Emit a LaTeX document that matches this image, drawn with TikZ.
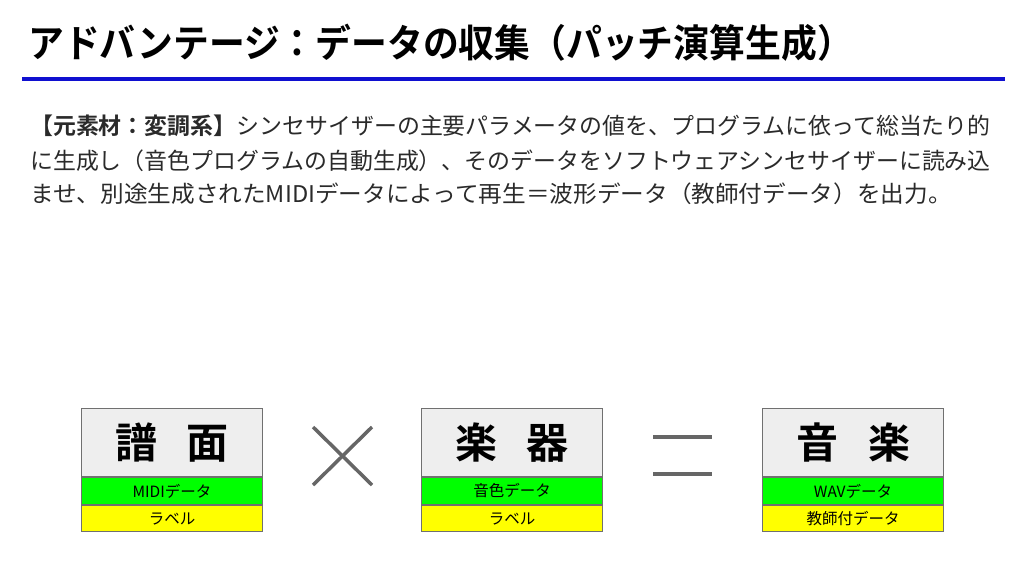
\documentclass[tikz,border=0pt]{standalone}
\usepackage{fontspec}
\newfontfamily\jp[BoldFont={Noto Sans CJK JP Bold}]{Noto Sans CJK JP}
\definecolor{bodytxt}{HTML}{2A2A2A}
\definecolor{rule}{HTML}{1010D0}
\definecolor{boxgray}{HTML}{EEEEEE}
\definecolor{boxedge}{HTML}{707070}
\definecolor{green1}{HTML}{00FF00}
\definecolor{yellow1}{HTML}{FFFF00}
\definecolor{opgray}{HTML}{666666}
\begin{document}
\begin{tikzpicture}[x=1pt,y=-1pt,
  bodyline/.style={anchor=base west,inner sep=0pt,text=bodytxt,font=\jp\fontsize{23}{24}\selectfont},
  headbox/.style={draw=boxedge,line width=1pt,fill=boxgray,minimum width=181pt,minimum height=68pt,inner sep=0pt,anchor=north west,font=\jp\bfseries\fontsize{42}{44}\selectfont},
  midbox/.style={draw=boxedge,line width=1pt,fill=green1,minimum width=181pt,minimum height=27pt,inner sep=0pt,anchor=north west,font=\jp\fontsize{15.5}{16}\selectfont},
  lowbox/.style={draw=boxedge,line width=1pt,fill=yellow1,minimum width=181pt,minimum height=26pt,inner sep=0pt,anchor=north west,font=\jp\fontsize{15.5}{16}\selectfont},
  opline/.style={draw=opgray,line width=3.5pt}]
\useasboundingbox (0,0) rectangle (1024,576);
% title
\node[anchor=base west,inner sep=0pt] (title) at (28,57)
  {\scalebox{0.93}[1]{\jp\bfseries\fontsize{38.5}{40}\selectfont アドバンテージ：データの収集（パッチ演算生成）}};
\coordinate (r1) at (22,79);
\coordinate (r2) at (1005,79);
\draw[rule,line width=4pt] (r1) -- (r2);
% body
\node[bodyline] (l1) at (30,134) {\scalebox{0.997}[1]{\textbf{【元素材：変調系】}シンセサイザーの主要パラメータの値を、プログラムに依って総当たり的}};
\node[bodyline] (l2) at (30,169) {\scalebox{0.996}[1]{に生成し（音色プログラムの自動生成）、そのデータをソフトウェアシンセサイザーに読み込}};
\node[bodyline] (l3) at (30,202) {\scalebox{1.028}[1]{ませ、別途生成されたMIDIデータによって再生＝波形データ（教師付データ）を出力。}};
% boxes
\node[headbox] (s1) at (81,408) {譜\hspace{30pt}面};
\node[midbox] (s1m) at (s1.south west) {MIDIデータ};
\node[lowbox] (s1l) at (s1m.south west) {ラベル};
\node[headbox] (s2) at (421,408) {楽\hspace{30pt}器};
\node[midbox] (s2m) at (s2.south west) {音色データ};
\node[lowbox] (s2l) at (s2m.south west) {ラベル};
\node[headbox] (s3) at (762,408) {音\hspace{30pt}楽};
\node[midbox] (s3m) at (s3.south west) {WAVデータ};
\node[lowbox] (s3l) at (s3m.south west) {教師付データ};
% operators
\coordinate (xa) at (313,427);
\coordinate (xb) at (372,485);
\coordinate (xc) at (313,485);
\coordinate (xd) at (372,427);
\draw[opline] (xa) -- (xb);
\draw[opline] (xc) -- (xd);
\coordinate (ea) at (653,437);
\coordinate (eb) at (712,437);
\coordinate (ec) at (653,474);
\coordinate (ed) at (712,474);
\draw[opline] (ea) -- (eb);
\draw[opline] (ec) -- (ed);
\end{tikzpicture}
\end{document}
